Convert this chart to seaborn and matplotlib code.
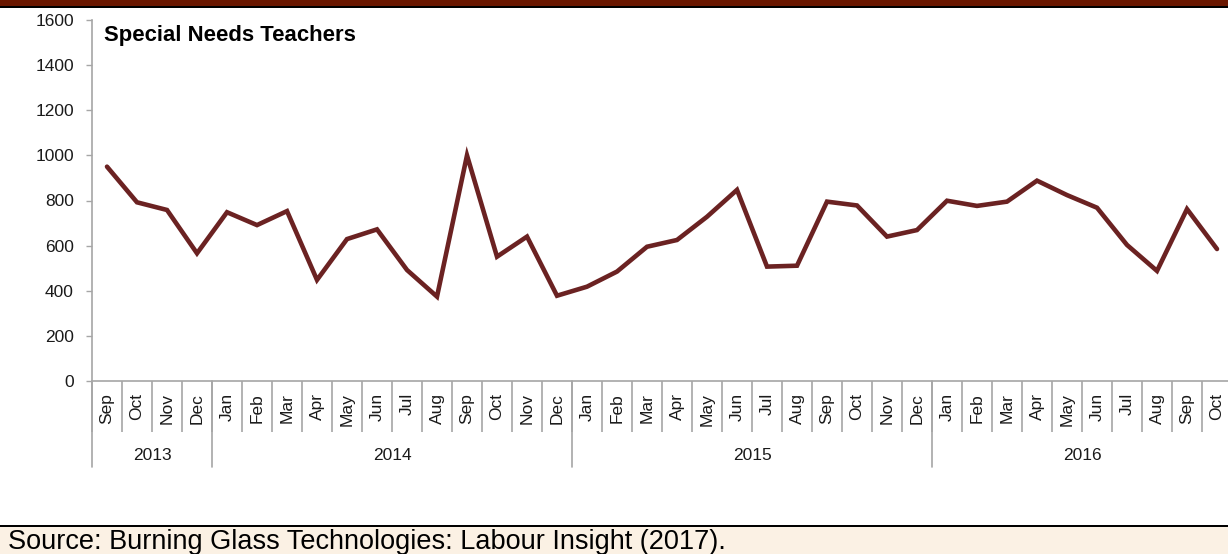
import numpy as np
import pandas as pd
import matplotlib
matplotlib.use("Agg")
import matplotlib.pyplot as plt
import matplotlib.transforms as mtransforms
from matplotlib.patches import Rectangle
import seaborn as sns

# Monthly online job postings, Special Needs Teachers (Sep 2013 - Oct 2016)
months = ["Sep", "Oct", "Nov", "Dec",
          "Jan", "Feb", "Mar", "Apr", "May", "Jun", "Jul", "Aug", "Sep", "Oct", "Nov", "Dec",
          "Jan", "Feb", "Mar", "Apr", "May", "Jun", "Jul", "Aug", "Sep", "Oct", "Nov", "Dec",
          "Jan", "Feb", "Mar", "Apr", "May", "Jun", "Jul", "Aug", "Sep", "Oct"]
years = ["2013"] * 4 + ["2014"] * 12 + ["2015"] * 12 + ["2016"] * 10
postings = [950, 792, 758, 566,
            748, 691, 753, 448, 629, 672, 492, 374, 1000, 551, 640, 378,
            418, 485, 595, 625, 728, 847, 507, 511, 795, 778, 640, 669,
            799, 776, 795, 888, 824, 768, 603, 488, 762, 585]
y_ticks = [0, 200, 400, 600, 800, 1000, 1200, 1400, 1600]

line_color = "#6B2222"
axis_grey = "#A6A6A6"
text_color = "#1a1a1a"
label_size = 12.5
W, H = 1228, 554

sns.set_style("white")
plt.rcParams["font.family"] = ["Liberation Sans", "DejaVu Sans"]

fig = plt.figure(figsize=(W / 100, H / 100), dpi=100)
ax = fig.add_axes([92 / W, 173 / H, (1232 - 92) / W, 361 / H])

df = pd.DataFrame({"idx": np.arange(len(postings)), "postings": postings})
sns.lineplot(data=df, x="idx", y="postings", color=line_color, linewidth=3.3,
             ax=ax, solid_joinstyle="miter")

n = len(months)
ax.set_xlim(-0.5, n - 0.5)
ax.set_ylim(0, 1600)
ax.set_xlabel("")
ax.set_ylabel("")

# y axis
ax.set_yticks(y_ticks)
ax.set_yticklabels([str(v) for v in y_ticks], fontsize=label_size, color=text_color)
ax.tick_params(axis="y", which="major", direction="out", length=4.5, width=1,
               color=axis_grey, pad=8.5, left=True)

# x axis: month labels at centers, category dividers as minor ticks
ax.set_xticks(np.arange(n))
ax.set_xticklabels(months, rotation=90, fontsize=label_size, color=text_color, va="top")
ax.tick_params(axis="x", which="major", length=0, pad=8.5, bottom=True)
ax.set_xticks(np.arange(-0.5, n), minor=True)
ax.tick_params(axis="x", which="minor", direction="out", length=37, width=1.2,
               color=axis_grey, bottom=True)

for side in ["top", "right"]:
    ax.spines[side].set_visible(False)
for side in ["left", "bottom"]:
    ax.spines[side].set_color(axis_grey)
    ax.spines[side].set_linewidth(1.2)

# year groups below the month labels
trans = mtransforms.blended_transform_factory(ax.transData, ax.transAxes)
year_bottom = -86 / 361
year_text_y = -75 / 361
starts = [i for i in range(n) if i == 0 or years[i] != years[i - 1]]
for k, s in enumerate(starts):
    e = starts[k + 1] if k + 1 < len(starts) else n
    ax.plot([s - 0.5, s - 0.5], [0, year_bottom], transform=trans,
            color=axis_grey, linewidth=1.2, clip_on=False)
    ax.text((s + e - 1) / 2, year_text_y, years[s], transform=trans,
            ha="center", va="center", fontsize=label_size, color=text_color)

# chart title
fig.text(104 / W, 1 - 41 / H, "Special Needs Teachers", fontsize=15.9,
         fontweight="bold", ha="left", va="baseline", color="black")

# header band
fig.patches.append(Rectangle((0, 1 - 6 / H), 1, 6 / H, transform=fig.transFigure,
                             facecolor="#6A1700", edgecolor="none", zorder=0))
fig.patches.append(Rectangle((0, 1 - 8 / H), 1, 2 / H, transform=fig.transFigure,
                             facecolor="black", edgecolor="none", zorder=0))

# source box
fig.patches.append(Rectangle((0, 0), 1, 27 / H, transform=fig.transFigure,
                             facecolor="#FBF1E4", edgecolor="none", zorder=0))
fig.patches.append(Rectangle((0, 27 / H), 1, 2 / H, transform=fig.transFigure,
                             facecolor="black", edgecolor="none", zorder=0))
fig.text(8 / W, 5 / H, "Source: Burning Glass Technologies: Labour Insight (2017).",
         fontsize=19.5, ha="left", va="baseline", color="black")

fig.savefig("out.png", dpi=100)
